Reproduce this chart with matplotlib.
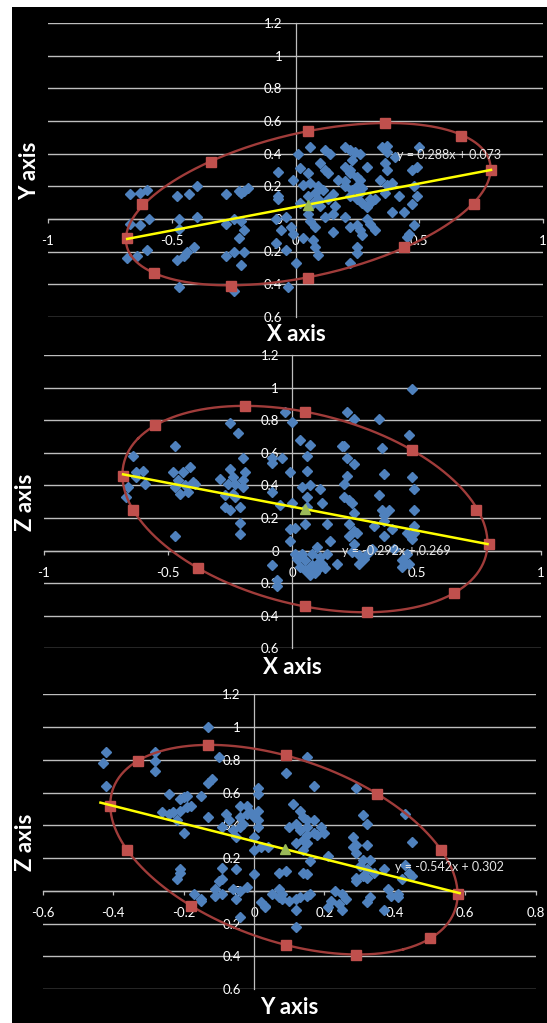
import numpy as np
import matplotlib
matplotlib.use('Agg')
import matplotlib.pyplot as plt
from matplotlib.patches import Rectangle

plt.rcParams['font.family'] = ['Lato', 'DejaVu Sans']

# ---- panel 1: X vs Y ----
xy_x = [-0.67, -0.63, -0.60, -0.67, -0.63, -0.59, -0.68, -0.64, -0.60, -0.48, -0.43, -0.40, -0.47, -0.47, -0.40,
        -0.48, -0.45, -0.44, -0.41, -0.47,
        -0.28, -0.23, -0.22, -0.21, -0.19, -0.28, -0.25, -0.22, -0.21, -0.23, -0.28, -0.25, -0.21, -0.22, -0.25,
        -0.07, -0.07, -0.07, -0.08, -0.04, -0.06, -0.02, -0.01, -0.08, -0.04, 0.00, -0.03,
        0.01, 0.06, 0.02, 0.05, -0.01, 0.03, 0.06, 0.08, 0.05, 0.02, 0.07, 0.09, 0.05, 0.06, 0.08, 0.03, 0.07, 0.08, 0.09,
        0.12, 0.14, 0.10, 0.12, 0.13, 0.11, 0.15, 0.13, 0.10, 0.12, 0.15, 0.16, 0.15, 0.17, 0.20, 0.20, 0.22, 0.20,
        0.22, 0.24, 0.26, 0.23, 0.22, 0.25, 0.26, 0.29, 0.27, 0.26, 0.23, 0.20, 0.22, 0.25, 0.27, 0.30, 0.32, 0.29,
        0.29, 0.30, 0.20, 0.22, 0.25, 0.26, 0.27, 0.32, 0.25, 0.25, 0.22,
        0.35, 0.37, 0.37, 0.40, 0.36, 0.37, 0.34, 0.37, 0.39, 0.36, 0.42, 0.39, 0.44, 0.47, 0.49, 0.50, 0.48, 0.49,
        0.47, 0.48, 0.46, 0.45, 0.30, 0.09, 0.25]
xy_y = [0.15, 0.16, 0.18, -0.03, -0.04, 0.00, -0.24, -0.23, -0.19, 0.14, 0.15, 0.20, 0.00, -0.06, 0.01,
        -0.25, -0.23, -0.20, -0.17, -0.42,
        0.15, 0.17, 0.16, 0.17, 0.19, -0.03, 0.00, -0.01, -0.07, -0.12, -0.23, -0.20, -0.20, -0.28, -0.44,
        0.29, 0.14, 0.12, 0.00, 0.01, -0.07, -0.05, -0.09, -0.15, -0.19, -0.27, -0.42,
        0.40, 0.44, 0.31, 0.28, 0.24, 0.21, 0.22, 0.16, 0.14, 0.10, 0.10, 0.12, 0.03, -0.01, -0.05, -0.12, -0.13, -0.17, -0.22,
        0.42, 0.40, 0.34, 0.30, 0.28, 0.18, 0.15, 0.12, 0.08, 0.01, 0.03, 0.08, -0.08, 0.24, 0.23, 0.32, 0.30, 0.44,
        0.42, 0.41, 0.40, 0.36, 0.28, 0.26, 0.24, 0.32, 0.19, 0.16, 0.18, 0.20, 0.14, 0.12, 0.10, 0.10, 0.12, 0.07,
        0.00, -0.03, 0.01, -0.05, -0.04, -0.07, -0.10, -0.07, -0.17, -0.21, -0.27,
        0.44, 0.45, 0.41, 0.38, 0.34, 0.30, 0.24, 0.21, 0.22, 0.16, 0.14, 0.04, 0.04, 0.30, 0.32, 0.44, 0.20, 0.14,
        0.09, -0.04, -0.09, -0.11, 0.12, 0.20, 0.20]
xy_sq_x = [0.36, 0.67, 0.79, 0.72, 0.44, 0.05, -0.26, -0.57, -0.68, -0.62, -0.34, 0.05]
xy_sq_y = [0.59, 0.51, 0.30, 0.09, -0.17, -0.36, -0.41, -0.33, -0.12, 0.09, 0.35, 0.54]

# ---- panel 2: X vs Z ----
xz_x = [-0.64, -0.66, -0.67, -0.63, -0.60, -0.63, -0.59, -0.47, -0.48, -0.44, -0.46, -0.47, -0.45, -0.43, -0.41,
        -0.40, -0.39, -0.42, -0.47,
        -0.29, -0.25, -0.25, -0.22, -0.20, -0.19, -0.20, -0.20, -0.24, -0.23, -0.27, -0.27, -0.25, -0.23, -0.21,
        -0.21, -0.21, -0.24, -0.26,
        -0.03, 0.00, -0.08, -0.08, -0.04, -0.01, -0.08, -0.05, 0.00,
        0.03, 0.07, 0.06, 0.06, 0.04, 0.07, 0.11, 0.06, 0.12, 0.06, 0.05, 0.01, -0.01, 0.14, 0.15, -0.01,
        0.01, 0.02, 0.04, 0.05, 0.06, 0.09, 0.08, 0.10, 0.11, 0.12, 0.14, 0.18, -0.08, -0.06, -0.06, 0.08, 0.05, 0.10,
        0.03, 0.07, 0.10, 0.13,
        0.20, 0.21, 0.22, 0.25, 0.21, 0.22, 0.21, 0.23, 0.24, 0.25, 0.23, 0.25, 0.26, 0.23, 0.25, 0.24, 0.27, 0.27,
        0.29, 0.30, 0.32,
        0.22, 0.25, 0.35, 0.36, 0.37, 0.35, 0.36, 0.37, 0.39, 0.37, 0.40, 0.33, 0.37, 0.41, 0.44, 0.44, 0.47, 0.46,
        0.48, 0.47, 0.48, 0.49, 0.49, 0.49, 0.49, 0.46, 0.48]
xz_z = [0.58, 0.39, 0.33, 0.48, 0.49, 0.45, 0.41, 0.64, 0.48, 0.48, 0.43, 0.39, 0.35, 0.40, 0.51,
        0.42, 0.41, 0.36, 0.09,
        0.44, 0.50, 0.78, 0.72, 0.57, 0.48, 0.43, 0.39, 0.45, 0.41, 0.34, 0.27, 0.25, 0.33, 0.27,
        0.17, 0.10, 0.35, 0.41,
        0.85, 0.79, 0.57, 0.54, 0.57, 0.48, 0.36, 0.28, 0.29,
        0.68, 0.65, 0.58, 0.49, 0.39, 0.40, 0.38, 0.33, 0.29, 0.27, 0.16, 0.14, 0.13, 0.16, 0.06, 0.06,
        -0.02, -0.05, -0.02, -0.06, -0.12, -0.14, -0.02, 0.02, -0.04, -0.08, -0.02, -0.08, -0.09, -0.18, -0.22, -0.09,
        -0.12, -0.12,
        -0.10, -0.15, -0.08, -0.11,
        0.64, 0.64, 0.57, 0.53, 0.41, 0.46, 0.33, 0.31, 0.29, 0.23, 0.16, 0.12, 0.11, 0.09, 0.04, -0.01, -0.03, -0.08,
        -0.05, -0.02, 0.01,
        0.85, 0.81, 0.81, 0.63, 0.47, 0.34, 0.25, 0.22, 0.25, 0.18, 0.13, 0.15, 0.09, 0.01, -0.06, -0.10, -0.08, -0.02,
        0.99, 0.71, 0.45, 0.38, 0.25, 0.15, 0.11, 0.11, 0.07]
xz_sq_x = [-0.19, 0.05, 0.48, 0.74, 0.79, 0.65, 0.30, 0.05, -0.38, -0.64, -0.68, -0.55]
xz_sq_z = [0.89, 0.85, 0.62, 0.25, 0.04, -0.26, -0.38, -0.34, -0.11, 0.25, 0.46, 0.77]

# ---- panel 3: Y vs Z ----
yz_y = [-0.43, -0.42, -0.42, -0.28, -0.28, -0.28, -0.13, -0.10, -0.12, -0.13, -0.13,
        -0.24, -0.26, -0.24, -0.23, -0.22, -0.21, -0.20, -0.19, -0.19, -0.18, -0.21, -0.20, -0.15,
        -0.09, -0.08, -0.07, -0.06, -0.05, -0.04, -0.03, -0.02, -0.02, 0.01, 0.01, 0.01, 0.01, 0.01, 0.00, 0.00,
        0.02, 0.04, -0.04, -0.04, 0.00, -0.01,
        -0.09, -0.05, 0.00, -0.10, -0.09, -0.11, -0.09, -0.06, -0.04, -0.02, -0.05, -0.04, -0.11, -0.15, -0.15,
        -0.17, -0.21, -0.21, -0.22,
        0.02, 0.03, 0.03, 0.05, 0.07, 0.07, 0.08, 0.08, 0.10, 0.07, 0.09,
        0.11, 0.10, 0.09, 0.15, 0.13, 0.14, 0.12, 0.15, 0.17, 0.15, 0.13, 0.15, 0.17, 0.18, 0.19, 0.20, 0.14, 0.12,
        0.15, 0.14, 0.16, 0.14, 0.15, 0.17,
        0.12, 0.13, 0.15, 0.16, 0.12, 0.12,
        0.23, 0.25, 0.22, 0.24, 0.26, 0.25, 0.21, 0.21,
        0.29, 0.28, 0.31, 0.32, 0.28, 0.29, 0.32, 0.29, 0.31, 0.33, 0.30, 0.29, 0.31, 0.32, 0.32, 0.29, 0.32, 0.33,
        0.34, 0.37, 0.38, 0.41, 0.41, 0.39, 0.37,
        0.43, 0.45, 0.43, 0.44, 0.45, 0.42]
yz_z = [0.78, 0.85, 0.64, 0.85, 0.79, 0.73, 1.00, 0.82, 0.68, 0.66, 0.45,
        0.59, 0.48, 0.47, 0.48, 0.43, 0.56, 0.57, 0.58, 0.51, 0.52, 0.49, 0.35, 0.58,
        0.39, 0.47, 0.43, 0.37, 0.33, 0.39, 0.41, 0.47, 0.52, 0.63, 0.59, 0.49, 0.43, 0.39, 0.33, 0.25,
        0.27, 0.27, 0.52, 0.45, 0.45, 0.48,
        0.14, 0.13, 0.10, 0.06, 0.07, 0.01, -0.02, 0.01, 0.00, 0.02, -0.05, -0.16, -0.03, -0.05, -0.06,
        -0.02, 0.13, 0.11, 0.07,
        -0.07, -0.09, -0.10, -0.02, 0.01, -0.04, -0.02, -0.05, -0.06, 0.11, 0.12,
        0.53, 0.39, 0.72, 0.82, 0.49, 0.45, 0.41, 0.43, 0.43, 0.39, 0.37, 0.34, 0.35, 0.34, 0.39, 0.35, 0.31, 0.29,
        0.29, 0.25, 0.18, 0.11, 0.10, 0.64,
        -0.05, -0.04, -0.03, -0.02, -0.12, -0.22,
        0.00, -0.02, -0.06, -0.08, -0.05, -0.12, -0.10, 0.21,
        0.63, 0.33, 0.46, 0.41, 0.27, 0.28, 0.28, 0.23, 0.19, 0.19, 0.15, 0.08, 0.09, 0.13, 0.08, 0.06, -0.07, -0.04,
        0.11, 0.13, 0.01, -0.02, -0.04, -0.03, -0.12,
        0.47, 0.30, 0.16, 0.11, 0.09, 0.07]
yz_sq_y = [-0.13, 0.09, 0.35, 0.53, 0.58, 0.50, 0.29, 0.09, -0.18, -0.36, -0.41, -0.33]
yz_sq_z = [0.89, 0.83, 0.59, 0.25, -0.02, -0.29, -0.39, -0.33, -0.09, 0.25, 0.52, 0.79]

# centroid and trendlines (slope, intercept, x start, x end)
mean_x, mean_y, mean_z = 0.05, 0.087, 0.254
trend_xy = (0.288, 0.073, -0.68, 0.79)
trend_xz = (-0.292, 0.269, -0.68, 0.785)
trend_yz = (-0.542, 0.302, -0.436, 0.584)

ytick_vals = [-0.6, -0.4, -0.2, 0, 0.2, 0.4, 0.6, 0.8, 1, 1.2]
ytick_labels = ['0.6', '0.4', '0.2', '0', '0.2', '0.4', '0.6', '0.8', '1', '1.2']
xtick_vals_1 = [-1, -0.5, 0, 0.5, 1]
xtick_labels_1 = ['-1', '-0.5', '0', '0.5', '1']
xtick_vals_3 = [-0.6, -0.4, -0.2, 0, 0.2, 0.4, 0.6, 0.8]
xtick_labels_3 = ['-0.6', '-0.4', '-0.2', '0', '0.2', '0.4', '0.6', '0.8']

BLUE = '#4F81BD'
RED = '#C0504D'
GREEN = '#9BBB59'
ELL = '#A03C3A'
GRID = '#BEBEBE'

W, H = 547, 1023
fig = plt.figure(figsize=(W / 100, H / 100), dpi=100, facecolor='white')
fig.patches.append(Rectangle((12 / W, 0), 1 - 12 / W, 1 - 7 / H, transform=fig.transFigure,
                             facecolor='black', edgecolor='none', zorder=-10))


def ellipse_outline(px, py, n=300):
    # fit a conic through the marker points that sit on the ellipse
    px = np.asarray(px, float)
    py = np.asarray(py, float)
    A = np.column_stack([px ** 2, px * py, py ** 2, px, py])
    a, b, c, d, e = np.linalg.lstsq(A, np.ones(len(px)), rcond=None)[0]
    x0, y0 = np.linalg.solve([[2 * a, b], [b, 2 * c]], [-d, -e])
    k = 1 - (a * x0 ** 2 + b * x0 * y0 + c * y0 ** 2 + d * x0 + e * y0)
    vals, vecs = np.linalg.eigh([[a, b / 2], [b / 2, c]])
    r = np.sqrt(k / vals)
    t = np.linspace(0, 2 * np.pi, n)
    q = vecs @ np.vstack([r[0] * np.cos(t), r[1] * np.sin(t)])
    return x0 + q[0], y0 + q[1]


def panel(rect_px, xs, ys, sqx, sqy, cx, cy, trend, xlim, xt, xtl, eq_pos):
    left, top, width, height = rect_px
    ax = fig.add_axes([left / W, 1 - (top + height) / H, width / W, height / H])
    ax.set_facecolor('none')
    ax.set_xlim(*xlim)
    ax.set_ylim(-0.6, 1.2)
    for s in ['top', 'right']:
        ax.spines[s].set_visible(False)
    ax.spines['left'].set_position(('data', 0))
    ax.spines['bottom'].set_position(('data', 0))
    for s in ['left', 'bottom']:
        ax.spines[s].set_color(GRID)
        ax.spines[s].set_linewidth(0.9)
    ax.set_yticks(ytick_vals)
    ax.set_yticklabels(ytick_labels)
    ax.set_xticks(xt)
    ax.set_xticklabels(xtl)
    ax.tick_params(axis='y', length=0, pad=9.5, labelsize=9.5, labelcolor='white')
    ax.tick_params(axis='x', length=3, width=0.9, color=GRID, direction='out', pad=8.5,
                   labelsize=9.5, labelcolor='white')
    ax.yaxis.grid(True, color=GRID, linewidth=1.0)
    ax.set_axisbelow(True)

    ax.plot(xs, ys, ls='none', marker='D', ms=5.2, color=BLUE, mec=BLUE, zorder=3)
    ex, ey = ellipse_outline(sqx, sqy)
    ax.plot(ex, ey, color=ELL, lw=1.7, zorder=4)
    ax.plot(sqx, sqy, ls='none', marker='s', ms=7.2, color=RED, mec=RED, zorder=5)
    slope, icpt, x0, x1 = trend
    lx = np.array([x0, x1])
    ax.plot(lx, slope * lx + icpt, color='#FFFF00', lw=1.8, zorder=6)
    ax.plot([cx], [cy], ls='none', marker='^', ms=7, color=GREEN, zorder=7)
    eq = 'y = %.3fx + %.3f' % (slope, icpt)
    ax.text(eq_pos[0], eq_pos[1], eq, color='#E6E6E6', fontsize=9,
            ha='left', va='center', zorder=8)
    return ax


panel((48, 23.3, 495, 293.4), xy_x, xy_y, xy_sq_x, xy_sq_y, mean_x, mean_y, trend_xy,
      (-1, 1), xtick_vals_1, xtick_labels_1, (0.41, 0.39))
panel((43.5, 355, 497.5, 293.3), xz_x, xz_z, xz_sq_x, xz_sq_z, mean_x, mean_z, trend_xz,
      (-1, 1), xtick_vals_1, xtick_labels_1, (0.20, 0.0))
panel((42.7, 694.3, 493, 294.7), yz_y, yz_z, yz_sq_y, yz_sq_z, mean_y, mean_z, trend_yz,
      (-0.6, 0.8), xtick_vals_3, xtick_labels_3, (0.40, 0.145))

titles = [('X axis', 296, 335, 0), ('Y axis', 30, 171, 90),
          ('X axis', 292, 668, 0), ('Z axis', 26, 502, 90),
          ('Y axis', 289, 1008, 0), ('Z axis', 25, 842, 90)]
for txt, px, py, rot in titles:
    fig.text(px / W, 1 - py / H, txt, color='white', fontsize=16, fontweight='bold',
             ha='center', va='center', rotation=rot)

fig.savefig('out.png', dpi=100, facecolor='white')
